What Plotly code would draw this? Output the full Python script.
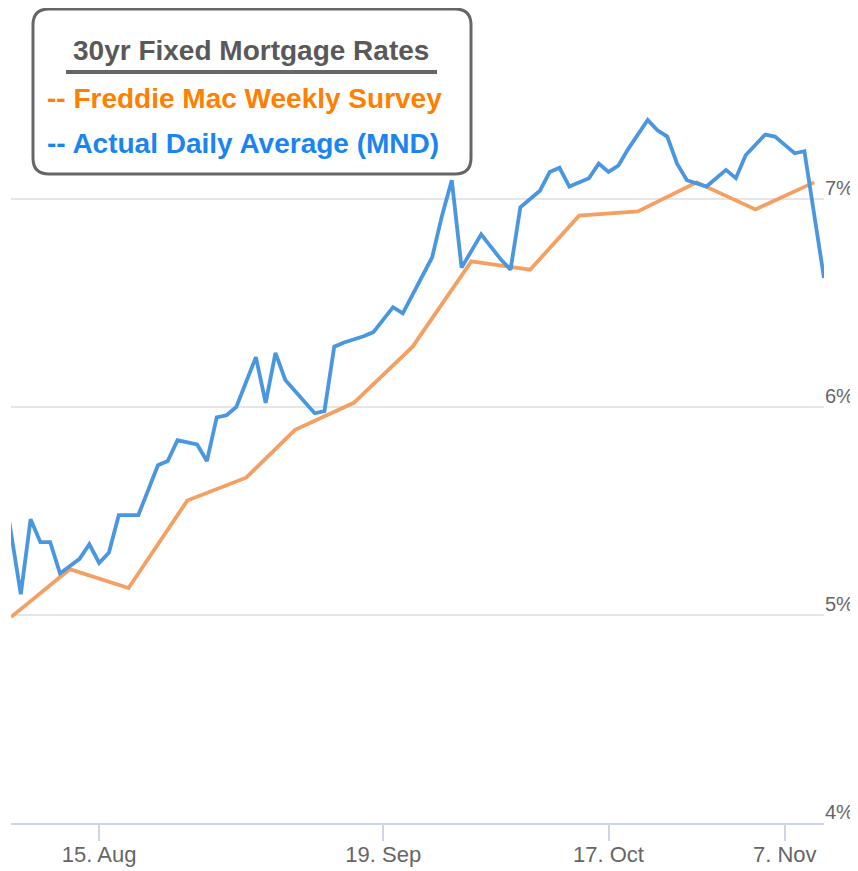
import plotly.graph_objects as go

# ---- data ----
freddie_dates = ["2022-08-04", "2022-08-11", "2022-08-18", "2022-08-25", "2022-09-01",
                 "2022-09-08", "2022-09-15", "2022-09-22", "2022-09-29", "2022-10-06",
                 "2022-10-13", "2022-10-20", "2022-10-27", "2022-11-03", "2022-11-10"]
freddie_rates = [4.99, 5.22, 5.13, 5.55, 5.66, 5.89, 6.02, 6.29, 6.70, 6.66,
                 6.92, 6.94, 7.08, 6.95, 7.08]

mnd_dates = ["2022-08-03", "2022-08-04", "2022-08-05", "2022-08-08", "2022-08-09", "2022-08-10",
             "2022-08-11", "2022-08-12", "2022-08-15", "2022-08-16", "2022-08-17", "2022-08-18",
             "2022-08-19", "2022-08-22", "2022-08-23", "2022-08-24", "2022-08-25", "2022-08-26",
             "2022-08-29", "2022-08-30", "2022-08-31", "2022-09-01", "2022-09-02", "2022-09-06",
             "2022-09-07", "2022-09-08", "2022-09-09", "2022-09-12", "2022-09-13", "2022-09-14",
             "2022-09-15", "2022-09-16", "2022-09-19", "2022-09-20", "2022-09-21", "2022-09-22",
             "2022-09-23", "2022-09-26", "2022-09-27", "2022-09-28", "2022-09-29", "2022-09-30",
             "2022-10-03", "2022-10-04", "2022-10-05", "2022-10-06", "2022-10-07", "2022-10-11",
             "2022-10-12", "2022-10-13", "2022-10-14", "2022-10-17", "2022-10-18", "2022-10-19",
             "2022-10-20", "2022-10-21", "2022-10-24", "2022-10-25", "2022-10-26", "2022-10-27",
             "2022-10-28", "2022-10-31", "2022-11-01", "2022-11-02", "2022-11-03", "2022-11-04",
             "2022-11-07", "2022-11-08", "2022-11-09", "2022-11-10"]
mnd_rates = [5.69, 5.10, 5.46, 5.35, 5.35, 5.20,
             5.27, 5.34, 5.25, 5.30, 5.48, 5.48,
             5.60, 5.72, 5.74, 5.84, 5.82, 5.74,
             5.95, 5.96, 6.00, 6.24, 6.02, 6.26,
             6.13, 6.02, 5.97, 5.98, 6.29, 6.31,
             6.34, 6.36, 6.42, 6.48, 6.45, 6.63,
             6.72, 6.92, 7.09, 6.67, 6.83, 6.77,
             6.71, 6.66, 6.96, 7.04, 7.13, 7.15,
             7.06, 7.10, 7.17, 7.13, 7.16, 7.24,
             7.38, 7.33, 7.30, 7.17, 7.09, 7.06,
             7.10, 7.14, 7.10, 7.21, 7.31, 7.30,
             7.26, 7.22, 7.23, 6.62]

tick_dates = ["2022-08-15", "2022-09-19", "2022-10-17", "2022-11-07"]
tick_labels = ["15. Aug", "19. Sep", "17. Oct", "7. Nov"]
y_ticks = [4, 5, 6, 7]
y_labels = ["4%", "5%", "6%", "7%"]

# ordinal (stock-chart style) x positions: weekly survey stamped before the daily value
fm_x = [d + " 00:00" for d in freddie_dates]
mnd_x = [d + " 12:00" for d in mnd_dates]
slots = sorted(set(fm_x) | set(mnd_x))
tick_x = [d + " 12:00" for d in tick_dates]

BLUE = "#4a96e0"
ORANGE = "#f4a062"

# the page body has an 8px margin, so the figure is sized to end at the window edge
OFF = 8
W, H = 858 - OFF, 871 - OFF
ML, MR, MT, MB = 11 - OFF, 34, 10 - OFF, 48
PW, PH = W - ML - MR, H - MT - MB

fig = go.Figure()
fig.add_trace(go.Scatter(x=fm_x, y=freddie_rates, mode="lines",
                         line=dict(color=ORANGE, width=3.8), name="Freddie Mac Weekly Survey"))
fig.add_trace(go.Scatter(x=mnd_x, y=mnd_rates, mode="lines",
                         line=dict(color=BLUE, width=3.8), name="Actual Daily Average (MND)"))

fig.update_layout(
    width=W, height=H,
    margin=dict(l=ML, r=MR, t=MT, b=MB, autoexpand=False),
    paper_bgcolor="white", plot_bgcolor="white",
    showlegend=False,
    font=dict(family="Liberation Sans, Arial, sans-serif", color="#666666"),
    xaxis=dict(type="category", categoryorder="array", categoryarray=slots,
               range=[1, len(slots) - 1], automargin=False,
               tickmode="array", tickvals=tick_x, ticktext=tick_labels,
               showgrid=False, zeroline=False,
               showline=True, linecolor="#ccd6eb", linewidth=2,
               ticks="outside", ticklen=16, tickwidth=2, tickcolor="#ccd6eb",
               ticklabelstandoff=-5,
               tickfont=dict(size=22, color="#666666")),
    yaxis=dict(range=[4, 4 + PH / 208], side="right", automargin=False,
               tickmode="array", tickvals=y_ticks, ticktext=y_labels,
               showgrid=True, gridcolor="#e6e6e6", gridwidth=2,
               zeroline=False, showline=False, ticks="",
               ticklabelshift=-11, ticklabelstandoff=0,
               tickfont=dict(size=20, color="#666666")),
)

# page-pixel -> paper coordinates
def px(x):
    return (x - OFF - ML) / PW

def py(y):
    return 1 - (y - OFF - MT) / PH

# legend box (rounded rectangle), corners given in page pixels
x0, y0, x1, y1, r = 33, 9, 471, 174, 16
pts = [("M", x0 + r, y0), ("L", x1 - r, y0), ("Q", x1, y0, x1, y0 + r), ("L", x1, y1 - r),
       ("Q", x1, y1, x1 - r, y1), ("L", x0 + r, y1), ("Q", x0, y1, x0, y1 - r),
       ("L", x0, y0 + r), ("Q", x0, y0, x0 + r, y0)]
parts = []
for p in pts:
    cmd, coords = p[0], p[1:]
    pairs = [f"{px(coords[i]):.5f},{py(coords[i+1]):.5f}" for i in range(0, len(coords), 2)]
    parts.append(cmd + " " + " ".join(pairs))
path = " ".join(parts) + " Z"

fig.add_shape(type="path", path=path, xref="paper", yref="paper",
              line=dict(color="#666666", width=3), fillcolor="white", layer="above")
fig.add_shape(type="line", xref="paper", yref="paper",
              x0=px(66), x1=px(437), y0=py(72), y1=py(72),
              line=dict(color="#666666", width=4), layer="above")

FONT = "Liberation Sans, Arial, sans-serif"
fig.add_annotation(xref="paper", yref="paper", x=px(251), y=py(50), xanchor="center", yanchor="middle",
                   text="<b>30yr Fixed Mortgage Rates</b>", showarrow=False,
                   font=dict(size=28, color="#595959", family=FONT))
fig.add_annotation(xref="paper", yref="paper", x=px(45), y=py(99), xanchor="left", yanchor="middle",
                   text="<b>-- Freddie Mac Weekly Survey</b>", showarrow=False,
                   font=dict(size=28, color="#ff8000", family=FONT))
fig.add_annotation(xref="paper", yref="paper", x=px(45), y=py(143), xanchor="left", yanchor="middle",
                   text="<b>-- Actual Daily Average (MND)</b>", showarrow=False,
                   font=dict(size=28, color="#1a85f0", family=FONT))

fig.write_html("out.html")
